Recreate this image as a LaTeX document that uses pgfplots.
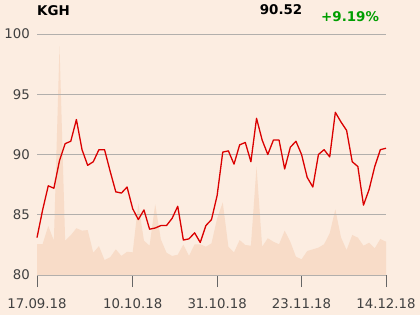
\documentclass[border=0pt]{standalone}
\usepackage{pgfplots}
\pgfplotsset{compat=1.18}
\usepackage{fontspec}
\setmainfont{DejaVu Sans}
\definecolor{bgc}{RGB}{252,237,225}
\definecolor{areac}{RGB}{248,220,200}
\definecolor{gridc}{RGB}{178,175,172}
\definecolor{linec}{RGB}{218,0,0}
\definecolor{txtc}{RGB}{64,64,64}
\definecolor{grn}{RGB}{0,158,0}
\begin{document}
\begin{tikzpicture}
\begin{axis}[
  set layers,
  at={(37pt,40pt)}, anchor=south west,
  scale only axis, width=349pt, height=241pt,
  xmin=0, xmax=62, ymin=80, ymax=100,
  clip=false,
  axis lines*=left,
  x axis line style={draw=gridc, line width=0.8pt},
  y axis line style={draw=none},
  ymajorgrids, grid style={draw=gridc, line width=0.8pt},
  ytick={80,85,90,95,100},
  xtick={0,17,32,47,62},
  xticklabels={17.09.18,10.10.18,31.10.18,23.11.18,14.12.18},
  tick align=outside, major tick length=12pt,
  xtick style={draw=txtc!80, line width=0.8pt},
  ytick style={draw=none},
  tick label style={font=\fontsize{13.3}{15}\selectfont, text=txtc},
  xticklabel style={inner sep=0pt, anchor=north, yshift=-11pt},
  yticklabel style={inner sep=0pt, anchor=east, xshift=5pt},
  /pgf/number format/assume math mode=true,
]
\begin{pgfonlayer}{axis background}
\fill[bgc] (rel axis cs:-0.106017,-0.165975) rectangle (rel axis cs:1.097421,1.141079);
\end{pgfonlayer}
\addplot[on layer=axis background, fill=areac, draw=none] coordinates {
(0,80)
(0,82.55)(1,82.57)(2,84.07)(3,82.85)(4,99.0)(5,82.85)(6,83.3)(7,83.88)(8,83.68)(9,83.73)
(10,81.85)(11,82.4)(12,81.24)(13,81.47)(14,82.13)(15,81.58)(16,81.93)(17,81.88)(18,85.95)(19,82.85)
(20,82.43)(21,85.87)(22,82.96)(23,81.85)(24,81.58)(25,81.68)(26,82.53)(27,81.58)(28,82.55)(29,82.55)
(30,82.35)(31,82.63)(32,84.7)(33,86.02)(34,82.35)(35,81.88)(36,82.9)(37,82.49)(38,82.43)(39,88.99)
(40,82.35)(41,83.05)(42,82.76)(43,82.55)(44,83.68)(45,82.76)(46,81.52)(47,81.3)(48,81.99)(49,82.13)
(50,82.27)(51,82.55)(52,83.46)(53,85.45)(54,83.13)(55,82.07)(56,83.32)(57,83.1)(58,82.43)(59,82.68)
(60,82.22)(61,82.99)(62,82.76)
(62,80)};
\addplot[linec, line width=1.3pt, line join=round] coordinates {
(0,83.1)(1,85.4)(2,87.4)(3,87.2)(4,89.5)(5,90.9)(6,91.1)(7,92.9)(8,90.4)(9,89.1)
(10,89.4)(11,90.4)(12,90.4)(13,88.6)(14,86.9)(15,86.8)(16,87.3)(17,85.5)(18,84.6)(19,85.4)
(20,83.8)(21,83.9)(22,84.1)(23,84.1)(24,84.7)(25,85.7)(26,82.9)(27,83.0)(28,83.5)(29,82.7)
(30,84.1)(31,84.6)(32,86.6)(33,90.2)(34,90.3)(35,89.2)(36,90.8)(37,91.0)(38,89.4)(39,93.0)
(40,91.2)(41,90.0)(42,91.2)(43,91.2)(44,88.8)(45,90.6)(46,91.1)(47,90.0)(48,88.1)(49,87.3)
(50,90.0)(51,90.4)(52,89.8)(53,93.5)(54,92.7)(55,92.0)(56,89.4)(57,89.0)(58,85.8)(59,87.1)
(60,89.0)(61,90.4)(62,90.52)};
\end{axis}
\node[anchor=base west, inner sep=0pt, font=\bfseries\fontsize{13.4}{15}\selectfont] at (37pt,299.7pt) {KGH};
\node[anchor=base east, inner sep=0pt, font=\bfseries\fontsize{13.4}{15}\selectfont] at (302.5pt,300.7pt) {90.52};
\node[anchor=base west, inner sep=0pt, font=\bfseries\fontsize{13.4}{15}\selectfont, text=grn] at (321pt,293.5pt) {+9.19\%};
\end{tikzpicture}
\end{document}
